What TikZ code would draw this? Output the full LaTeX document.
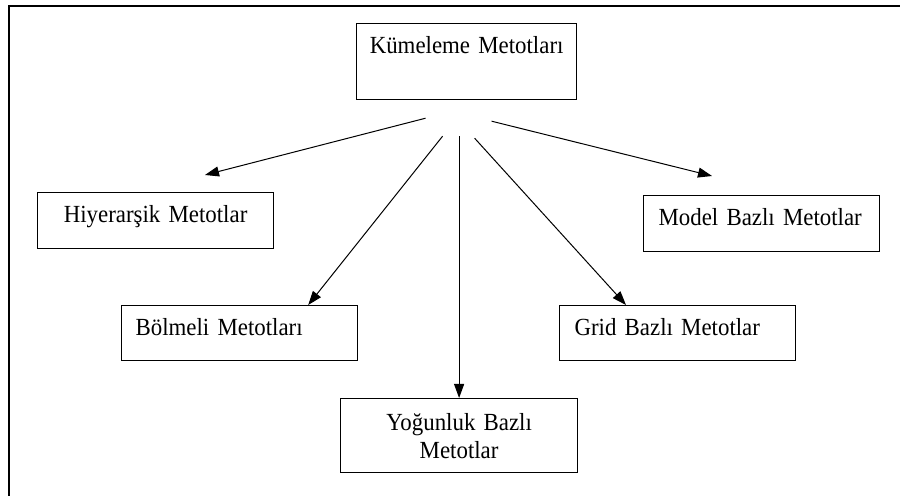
\documentclass[tikz,border=0pt]{standalone}
\usepackage{fontspec}
\setmainfont[FakeStretch=0.93, WordSpace=0.75]{Liberation Serif}
\usetikzlibrary{arrows.meta}

\begin{document}
\begin{tikzpicture}[x=0.5pt, y=-0.5pt,
    box/.style={draw, line width=0.6pt, anchor=north west, inner ysep=0pt,
        text height=15pt, font=\fontsize{12.3}{14}\selectfont},
    arr/.style={-{Triangle[length=7pt, width=5pt]}, line width=0.5pt}]

    \useasboundingbox (0,0) rectangle (900,496);

    % Frame (only top and left edges show)
    \draw[line width=1pt] (900,6) -- (9,6) -- (9,496);

    % Root box
    \node[box, inner xsep=0pt, text width=110pt, align=center, text depth=23pt]
        (kume) at (356,23) {Kümeleme Metotları};

    % Method boxes
    \node[box, inner xsep=0pt, text width=118pt, align=center, text depth=13pt]
        (hier) at (37,192) {Hiyerarşik Metotlar};
    \node[box, inner xsep=7pt, text width=104pt, align=left, text depth=12.5pt]
        (bolm) at (121,305) {Bölmeli Metotları};
    \node[box, inner xsep=0pt, text width=118.5pt, align=center,
        text height=16pt, text depth=21pt]
        (yog) at (340,398) {Yoğunluk Bazlı\\Metotlar};
    \node[box, inner xsep=7.5pt, text width=103pt, align=left, text depth=12.5pt]
        (grid) at (559,305) {Grid Bazlı Metotlar};
    \node[box, inner xsep=7.5pt, text width=103pt, align=left, text depth=13pt]
        (model) at (643,195) {Model Bazlı Metotlar};

    % Arrow start points below the root box
    \coordinate (s1) at ([shift={(-20.5pt,-9pt)}]kume.south);
    \coordinate (s2) at ([shift={(-12pt,-18pt)}]kume.south);
    \coordinate (s3) at (yog.north |- s2);
    \coordinate (s4) at ([shift={(4pt,-19pt)}]kume.south);
    \coordinate (s5) at ([shift={(12.5pt,-10.5pt)}]kume.south);

    % Arrows
    \draw[arr] (s1) -- ([shift={(84pt,8.5pt)}]hier.north west);
    \draw[arr] (s2) -- ([xshift=-25pt]bolm.north east);
    \draw[arr] (s3) -- (yog.north);
    \draw[arr] (s4) -- ([xshift=33.5pt]grid.north west);
    \draw[arr] (s5) -- ([shift={(34.5pt,9.5pt)}]model.north west);

\end{tikzpicture}
\end{document}
